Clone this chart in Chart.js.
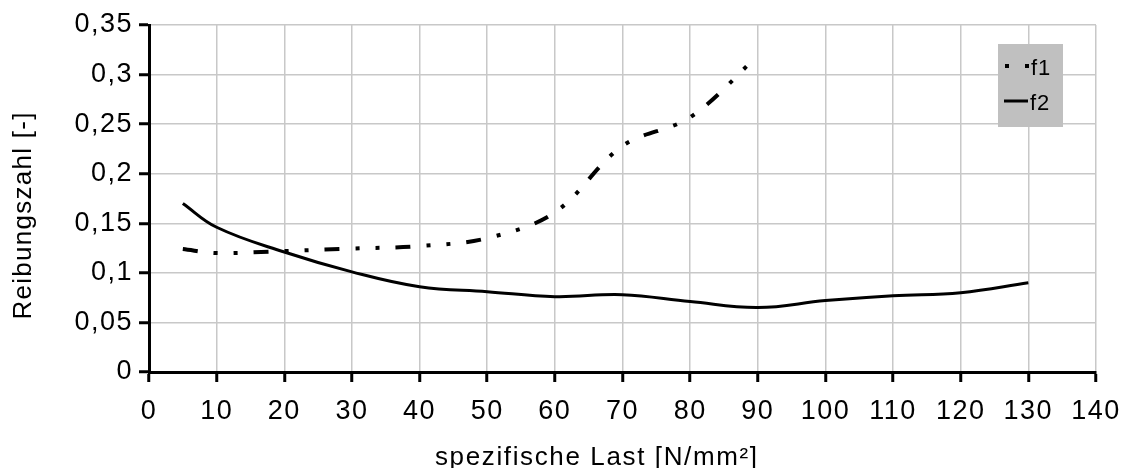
<!DOCTYPE html>
<html>
<head>
<meta charset="utf-8">
<script src="https://cdn.jsdelivr.net/npm/chart.js@4.4.0/dist/chart.umd.min.js"></script>
<style>
  html, body { margin: 0; padding: 0; background: #fff; }
  #wrap { width: 1127px; height: 468px; }
</style>
</head>
<body>
<div id="wrap"><canvas id="chart" width="1127" height="468"></canvas></div>
<script>
// Data
const f1X = [5, 10, 20, 30, 40, 50, 60, 70, 80, 90];
const f1Y = [0.124, 0.12, 0.122, 0.1245, 0.127, 0.135, 0.161, 0.228, 0.257, 0.319];
const f2X = [5, 10, 20, 30, 40, 50, 60, 70, 80, 90, 100, 110, 120, 130];
const f2Y = [0.170, 0.146, 0.121, 0.101, 0.086, 0.081, 0.076, 0.078, 0.071, 0.065, 0.072, 0.077, 0.080, 0.090];
const yTickLabels = ['0', '0,05', '0,1', '0,15', '0,2', '0,25', '0,3', '0,35'];
const seriesNames = ['f1', 'f2'];
const xTitle = 'spezifische Last [N/mm²]';
const yTitle = 'Reibungszahl [-]';

const FONT = 'Liberation Sans, Arial, sans-serif';
const DASH = [15, 16, 4, 16, 4, 16];

function toPoints(xs, ys) {
  return xs.map((x, i) => ({ x: x, y: ys[i] }));
}

// spread text to a target width (the original export has slightly wide letter spacing)
function spacedText(ctx, text, x, y, targetWidth) {
  ctx.letterSpacing = '0px';
  const w0 = ctx.measureText(text).width;
  const gap = Math.max(0, (targetWidth - w0) / (text.length - 1));
  ctx.letterSpacing = gap + 'px';
  ctx.fillText(text, x - (w0 + gap * (text.length - 1)) / 2, y);
}

const textStyle = {
  id: 'textStyle',
  beforeDraw(chart) {
    chart.ctx.letterSpacing = '1.5px';
  },
  afterDraw(chart) {
    const ctx = chart.ctx;
    ctx.save();
    ctx.fillStyle = '#000';
    ctx.font = '26px ' + FONT;
    ctx.textAlign = 'left';
    ctx.textBaseline = 'alphabetic';
    spacedText(ctx, xTitle, 596, 465, 322);
    ctx.textBaseline = 'middle';
    ctx.translate(24, 216);
    ctx.rotate(-Math.PI / 2);
    spacedText(ctx, yTitle, 0, 0, 207);
    ctx.restore();
  }
};

// Legend box inside the plot area, grey background
const boxLegend = {
  id: 'boxLegend',
  afterDatasetsDraw(chart) {
    const { ctx, chartArea } = chart;
    const left = chartArea.right - 98;
    const top = chartArea.top + 19;
    ctx.save();
    ctx.fillStyle = '#c0c0c0';
    ctx.fillRect(left, top, 65, 83);
    ctx.strokeStyle = '#000';
    ctx.lineCap = 'butt';
    // f1 sample
    ctx.lineWidth = 4;
    ctx.setLineDash(DASH);
    ctx.lineDashOffset = 31;
    ctx.beginPath();
    ctx.moveTo(left + 7, top + 22);
    ctx.lineTo(left + 31, top + 22);
    ctx.stroke();
    // f2 sample
    ctx.setLineDash([]);
    ctx.lineWidth = 3;
    ctx.beginPath();
    ctx.moveTo(left + 6, top + 57);
    ctx.lineTo(left + 30, top + 57);
    ctx.stroke();
    ctx.fillStyle = '#000';
    ctx.letterSpacing = '1px';
    ctx.font = '22px ' + FONT;
    ctx.textBaseline = 'middle';
    ctx.fillText(seriesNames[0], left + 33, top + 25);
    ctx.fillText(seriesNames[1], left + 32, top + 60);
    ctx.restore();
  }
};

new Chart(document.getElementById('chart'), {
  type: 'line',
  data: {
    datasets: [
      {
        label: seriesNames[0],
        data: toPoints(f1X, f1Y),
        borderColor: '#000',
        borderWidth: 4,
        borderDash: DASH,
        borderCapStyle: 'butt',
        pointRadius: 0,
        tension: 0.35,
        fill: false
      },
      {
        label: seriesNames[1],
        data: toPoints(f2X, f2Y),
        borderColor: '#000',
        borderWidth: 3,
        pointRadius: 0,
        tension: 0.4,
        fill: false
      }
    ]
  },
  options: {
    responsive: false,
    animation: false,
    layout: { padding: { top: 25, right: 31, left: 0, bottom: 0 } },
    plugins: {
      legend: { display: false },
      tooltip: { enabled: false }
    },
    scales: {
      x: {
        type: 'linear',
        min: 0,
        max: 140,
        ticks: {
          stepSize: 10,
          color: '#000',
          font: { family: FONT, size: 27 },
          padding: 13,
          maxRotation: 0,
          autoSkip: false
        },
        grid: {
          color: '#c8c8c8',
          lineWidth: 1.5,
          tickColor: '#000',
          tickLength: 10,
          tickWidth: 3
        },
        border: { color: '#000', width: 3 },
        afterFit(scale) {
          scale.height = 96;
          scale.paddingLeft = 0;
          scale.paddingRight = 0;
        }
      },
      y: {
        min: 0,
        max: 0.35,
        ticks: {
          stepSize: 0.05,
          color: '#000',
          font: { family: FONT, size: 27 },
          padding: 6,
          callback: (v, i) => yTickLabels[i]
        },
        grid: {
          color: '#c8c8c8',
          lineWidth: 1.5,
          tickColor: '#000',
          tickLength: 10,
          tickWidth: 3
        },
        border: { color: '#000', width: 3 },
        afterFit(scale) {
          scale.width = 149;
          scale.paddingTop = 0;
          scale.paddingBottom = 0;
        }
      }
    }
  },
  plugins: [boxLegend, textStyle]
});
</script>
</body>
</html>
